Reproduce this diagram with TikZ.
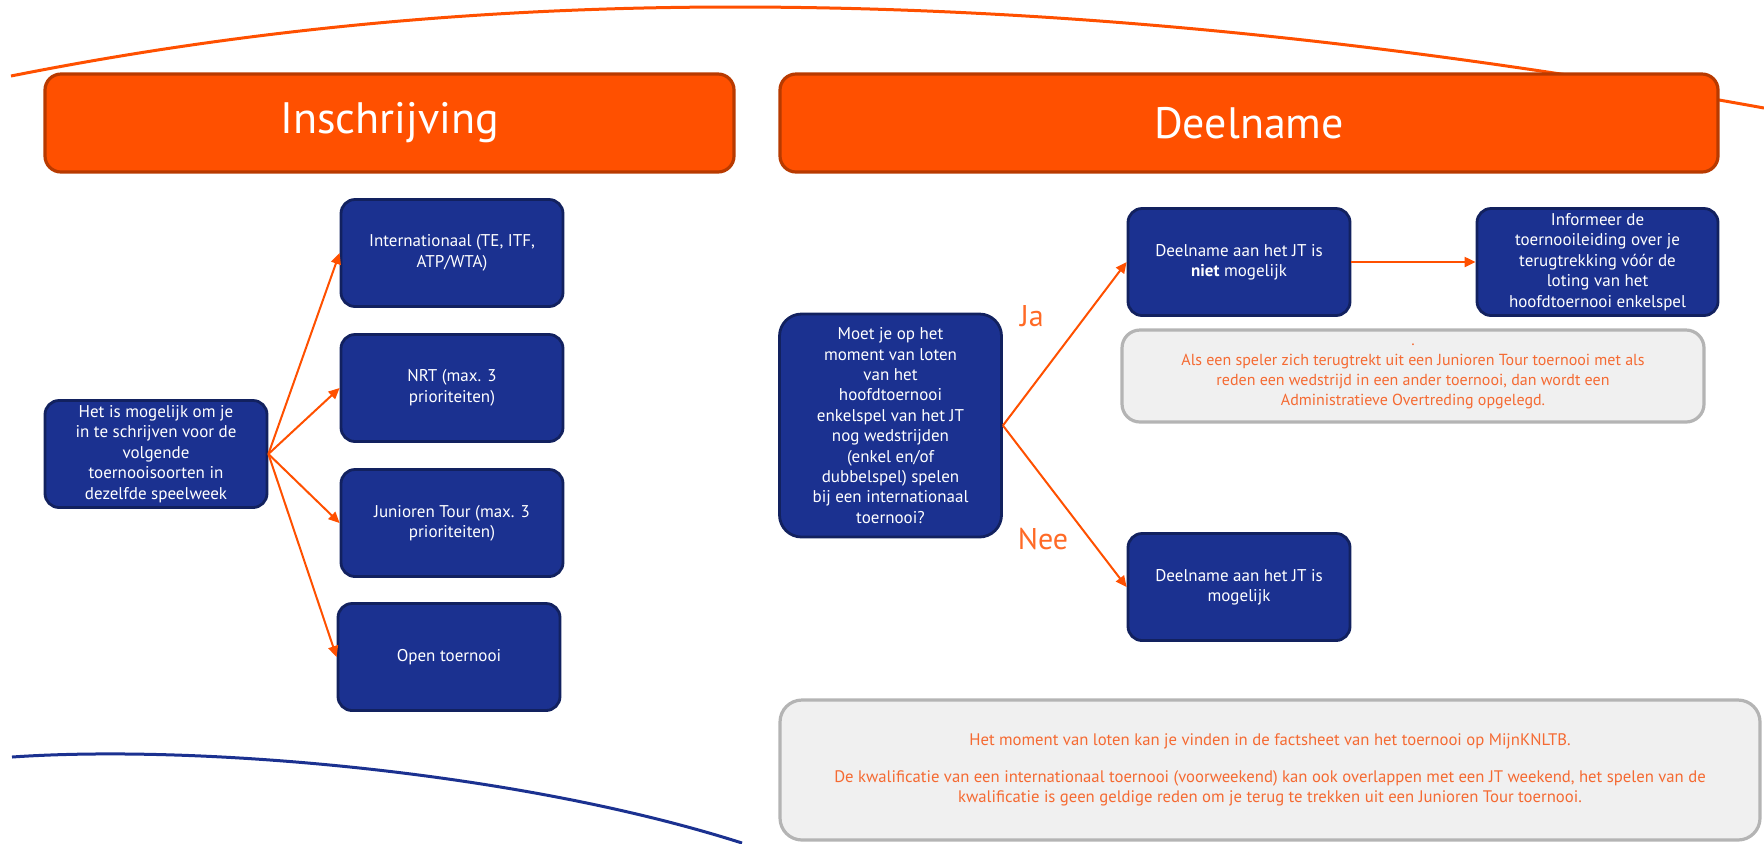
\documentclass[tikz,border=0pt]{standalone}
\usepackage{fontspec}
\setmainfont{PT Sans}
\usetikzlibrary{arrows.meta}

\definecolor{knltboranje}{HTML}{FF5000}
\definecolor{oranjerand}{HTML}{B83A00}
\definecolor{knltbblauw}{HTML}{1B3190}
\definecolor{blauwrand}{HTML}{12215F}
\definecolor{grijsvlak}{HTML}{F0F0F0}
\definecolor{grijsrand}{HTML}{B4B4B4}
\definecolor{tekstoranje}{HTML}{F56A32}

\begin{document}
\begin{tikzpicture}[x=0.5pt,y=-0.5pt,
    blok/.style={draw=blauwrand,line width=1.4pt,fill=knltbblauw,text=white,
      rounded corners=7pt,minimum width=111pt,minimum height=53.5pt,
      align=center,inner sep=2pt,font=\fontsize{8.5}{10.2}\selectfont},
    kop/.style={draw=oranjerand,line width=1.6pt,fill=knltboranje,text=white,
      rounded corners=8pt,minimum height=49pt,font=\fontsize{22}{26}\selectfont},
    kader/.style={draw=grijsrand,line width=1.6pt,fill=grijsvlak,text=tekstoranje,
      rounded corners=9pt,align=center,font=\fontsize{8}{10}\selectfont},
    keuze/.style={text=knltboranje!85,font=\fontsize{15}{18}\selectfont},
    pijl/.style={draw=knltboranje,line width=1pt,-{Triangle[length=5.5pt,width=5pt]}}]
    \useasboundingbox (0,0) rectangle (1764,843);

    % Bogen op de achtergrond
    \draw[knltboranje,line width=1.5pt] (11,76) .. controls (252,28) and (493,7) .. (734,7)
        .. controls (1060,7) and (1400,42) .. (1764,108);
    \draw[knltbblauw,line width=1.5pt] (12,757) .. controls (200,744) and (520,772) .. (742,843);

    % Koppen
    \node[kop,minimum width=344.5pt] (inschrijving) at (389.5,123) {Inschrijving};
    \node[kop,minimum width=469pt] (deelname) at (1249,123) {Deelname};

    % Inschrijving
    \node[blok] (intro) at (156,454) {Het is mogelijk om je\\in te schrijven voor de\\volgende\\toernooisoorten in\\dezelfde speelweek};
    \node[blok] (intl) at (452,253) {Internationaal (TE, ITF,\\ATP/WTA)};
    \node[blok] (nrt) at (452,388) {NRT (max. 3\\prioriteiten)};
    \node[blok] (jt) at (452,523) {Junioren Tour (max. 3\\prioriteiten)};
    \node[blok] (open) at (449,657) {Open toernooi};

    \draw[pijl] (intro.east) -- (intl.west);
    \draw[pijl] (intro.east) -- (nrt.west);
    \draw[pijl] (intro.east) -- (jt.west);
    \draw[pijl] (intro.east) -- (open.west);

    % Deelname
    \node[blok,minimum height=111.5pt,rounded corners=11pt] (vraag) at (890.5,425.5) {Moet je op het\\moment van loten\\van het\\hoofdtoernooi\\enkelspel van het JT\\nog wedstrijden\\(enkel en/of\\dubbelspel) spelen\\bij een internationaal\\toernooi?};
    \node[blok] (niet) at (1239,262) {Deelname aan het JT is\\\textbf{niet} mogelijk};
    \node[blok,minimum width=120.5pt] (info) at (1597.5,262) {Informeer de\\toernooileiding over je\\terugtrekking vóór de\\loting van het\\hoofdtoernooi enkelspel};
    \node[blok] (mogelijk) at (1239,587) {Deelname aan het JT is\\mogelijk};

    \draw[pijl] (vraag.east) -- (niet.west);
    \draw[pijl] (vraag.east) -- (mogelijk.west);
    \draw[pijl] (niet.east) -- (info.west);

    \node[keuze] (ja) at (1032,316) {Ja};
    \node[keuze] (nee) at (1043,539) {Nee};

    % Opmerkingen
    \node[kader,minimum width=291pt,minimum height=46pt] (opm1) at (1413,376) {.\\Als een speler zich terugtrekt uit een Junioren Tour toernooi met als\\reden een wedstrijd in een ander toernooi, dan wordt een\\Administratieve Overtreding opgelegd.};
    \node[kader,minimum width=490pt,minimum height=70pt,rounded corners=11pt,font=\fontsize{8.35}{10}\selectfont] (opm2) at (1270,770) {Het moment van loten kan je vinden in de factsheet van het toernooi op MijnKNLTB.\\[8.5pt]De kwalificatie van een internationaal toernooi (voorweekend) kan ook overlappen met een JT weekend, het spelen van de\\kwalificatie is geen geldige reden om je terug te trekken uit een Junioren Tour toernooi.};
\end{tikzpicture}
\end{document}
